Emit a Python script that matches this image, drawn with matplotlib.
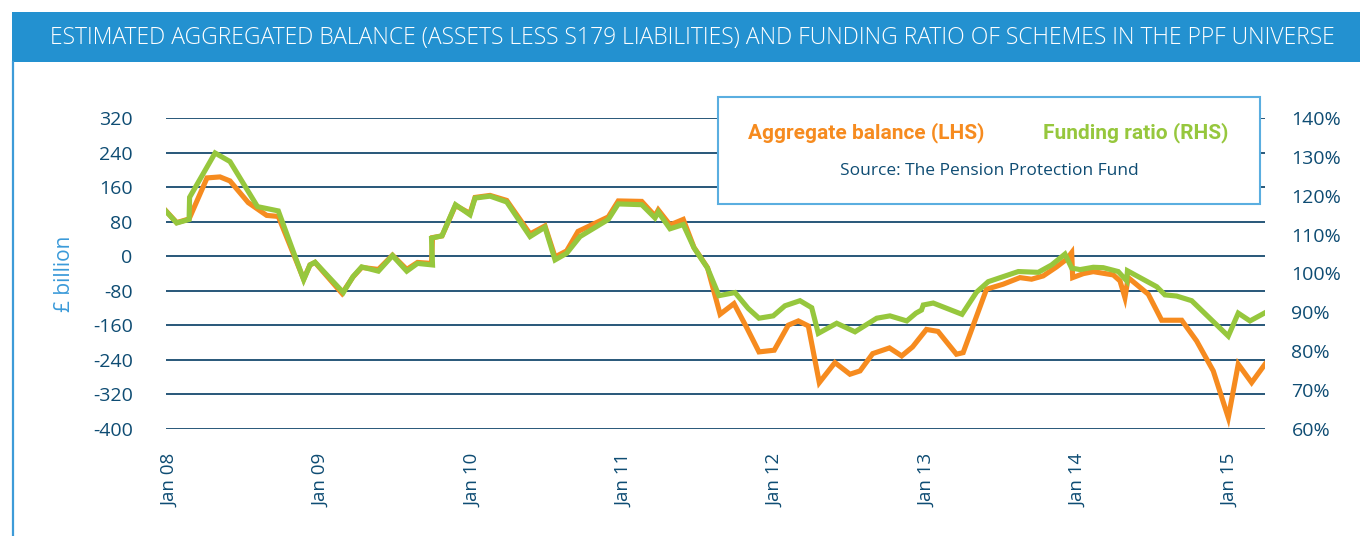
import matplotlib.pyplot as plt
from matplotlib.patches import Rectangle
from matplotlib.lines import Line2D

# x values are months since Jan 2008 (fractional where the series jumps)
balance_months = [-0.32, 0.53, 1.51, 2.93, 3.96, 4.75, 6.20, 7.66, 8.58, 10.59,
                  11.09, 11.49, 13.63, 14.50, 15.19, 16.51, 17.63, 18.76, 19.61, 20.72,
                  20.80, 21.55, 22.62, 23.77, 24.17, 25.36, 26.68, 28.53, 29.71, 30.51,
                  31.43, 32.33, 34.73, 35.52, 37.38, 38.43, 38.69, 39.62, 40.67, 41.52,
                  42.59, 43.59, 44.69, 45.70, 46.67, 47.88, 48.99, 49.79, 50.58, 51.45,
                  52.69, 53.88, 54.68, 55.68, 57.01, 57.98, 58.84, 59.94, 60.86, 62.32,
                  62.85, 64.70, 66.02, 67.35, 68.27, 69.19, 70.25, 71.05, 71.45, 71.53,
                  72.37, 73.16, 74.75, 75.28, 75.67, 75.93, 77.52, 78.58, 80.17, 81.35,
                  82.67, 83.86, 84.65, 85.71, 86.77]
balance_values = [104.9, 77.8, 86.3, 181.3, 183.6, 174.3, 124.1, 94.5, 92.1, -53.2,
                  -20.1, -14.4, -86.1, -47.9, -25.9, -30.6, 2.3, -30.6, -14.4, -16.7,
                  43.1, 47.0, 117.6, 99.1, 136.1, 140.8, 129.2, 51.6, 70.1, -1.6,
                  12.3, 57.4, 91.0, 128.0, 126.9, 93.3, 107.2, 72.5, 85.2, 20.4,
                  -26.4, -134.3, -109.7, -165.3, -221.5, -217.6, -159.7, -149.8, -161.4, -292.6,
                  -246.3, -273.2, -265.5, -225.5, -212.3, -230.8, -210.0, -169.5, -174.1, -226.9,
                  -223.2, -76.4, -64.8, -49.5, -53.2, -45.6, -24.8, -6.9, 8.3, -49.5,
                  -40.3, -35.7, -43.3, -57.2, -95.8, -49.5, -88.0, -148.2, -148.2, -196.1,
                  -265.5, -373.6, -250.0, -292.6, -250.0]

ratio_months = [-0.32, 0.53, 1.51, 1.55, 3.57, 4.75, 6.93, 8.58, 10.59, 11.09,
                11.49, 13.73, 14.50, 15.19, 16.51, 17.63, 18.76, 19.61, 20.80, 20.72,
                21.55, 22.62, 23.77, 24.17, 25.36, 26.68, 28.53, 29.71, 30.51, 31.43,
                32.49, 34.73, 35.52, 37.38, 38.43, 38.69, 39.62, 40.67, 41.52, 42.59,
                43.50, 44.77, 45.82, 46.67, 47.80, 48.73, 49.92, 50.85, 51.37, 52.83,
                54.28, 56.00, 57.05, 58.38, 59.11, 59.55, 59.69, 60.48, 62.76, 63.91,
                64.84, 67.22, 68.80, 69.86, 70.92, 71.45, 72.11, 73.16, 73.95, 75.14,
                75.81, 75.87, 78.19, 78.84, 79.77, 80.96, 83.86, 84.65, 85.58, 86.77]
ratio_values = [116.0, 113.0, 113.9, 119.6, 131.0, 128.8, 117.2, 116.1, 98.4, 102.2,
                102.9, 95.1, 99.2, 101.7, 100.6, 104.6, 100.6, 102.6, 102.2, 109.1,
                109.7, 117.7, 115.1, 119.4, 119.9, 118.4, 109.5, 111.9, 103.5, 105.2,
                109.5, 113.9, 117.9, 117.7, 114.3, 115.8, 111.5, 112.6, 106.6, 101.4,
                94.3, 95.1, 91.0, 88.5, 89.1, 91.7, 93.0, 91.2, 84.6, 87.2,
                85.0, 88.5, 89.1, 87.8, 89.8, 90.6, 91.9, 92.4, 89.5, 95.2,
                97.9, 100.5, 100.3, 102.2, 105.0, 101.4, 101.0, 101.6, 101.5, 100.5,
                98.1, 100.7, 96.6, 94.5, 94.2, 93.0, 83.9, 89.8, 87.8, 89.9]

year_ticks = [0, 12, 24, 36, 48, 60, 72, 84]
year_labels = ["Jan 08", "Jan 09", "Jan 10", "Jan 11", "Jan 12", "Jan 13", "Jan 14", "Jan 15"]
balance_ticks = [-400, -320, -240, -160, -80, 0, 80, 160, 240, 320]
ratio_ticks = [60, 70, 80, 90, 100, 110, 120, 130, 140]

ORANGE = "#F68B1F"
GREEN = "#96C73D"
NAVY = "#0E4C73"
BLUE = "#2391D0"
FONT = ["Open Sans", "DejaVu Sans"]

W, H = 1360, 536
fig = plt.figure(figsize=(W / 100, H / 100), dpi=100)

# title bar and left rule
fig.add_artist(Rectangle((12 / W, 1 - 62 / H), 1 - 12 / W, 50 / H,
                         transform=fig.transFigure, color=BLUE, lw=0))
fig.add_artist(Line2D([13 / W, 13 / W], [0, 1 - 62 / H], transform=fig.transFigure,
                      color="#3D9BD8", lw=1.6))
fig.text(692 / W, 1 - 38 / H,
         "ESTIMATED AGGREGATED BALANCE (ASSETS LESS S179 LIABILITIES) AND FUNDING RATIO OF SCHEMES IN THE PPF UNIVERSE",
         color="white", fontsize=16.5, family=FONT, weight="light", ha="center", va="center")

ax = fig.add_axes([166 / W, 1 - 429 / H, 1099 / W, 311 / H])
ax.plot(balance_months, balance_values, color=ORANGE, lw=3.7, solid_joinstyle="miter")
ax.set_xlim(-0.32, 86.77)
ax.set_ylim(-400, 320)
ax.set_yticks(balance_ticks)
ax.set_yticklabels([str(v) for v in balance_ticks])
ax.set_xticks(year_ticks)
ax.set_xticklabels(year_labels, rotation=90)
ax.grid(axis="y", color="#174A6E", lw=1.3)
ax.set_axisbelow(True)
ax.tick_params(axis="y", length=0, pad=24, labelsize=14, labelcolor=NAVY)
ax.tick_params(axis="x", length=0, pad=18, labelsize=13.5, labelcolor=NAVY)
for lbl in ax.get_xticklabels() + ax.get_yticklabels():
    lbl.set_family(FONT)
for s in ax.spines.values():
    s.set_visible(False)
ax.set_ylabel("£ billion", color="#3A9AD9", fontsize=15, family=FONT, labelpad=13)

ax2 = ax.twinx()
ax2.plot(ratio_months, ratio_values, color=GREEN, lw=3.7, solid_joinstyle="miter")
ax2.set_ylim(60, 140)
ax2.set_yticks(ratio_ticks)
ax2.set_yticklabels([f"{v}%" for v in ratio_ticks])
ax2.tick_params(axis="y", length=0, pad=19, labelsize=14, labelcolor=NAVY)
for lbl in ax2.get_yticklabels():
    lbl.set_family(FONT)
for s in ax2.spines.values():
    s.set_visible(False)

# legend box
fig.add_artist(Rectangle((718 / W, 1 - 204 / H), 542 / W, 107 / H, transform=fig.transFigure,
                         facecolor="white", edgecolor="#5AAEE0", lw=1.5, zorder=3))
bold = ["Liberation Sans Narrow", "Roboto", "DejaVu Sans"]
fig.text(866 / W, 1 - 133 / H, "Aggregate balance (LHS)", color=ORANGE, fontsize=15,
         family=bold, weight="bold", ha="center", va="center", zorder=4)
fig.text(1136 / W, 1 - 133 / H, "Funding ratio (RHS)", color=GREEN, fontsize=15,
         family=bold, weight="bold", ha="center", va="center", zorder=4)
fig.text(989 / W, 1 - 171 / H, "Source: The Pension Protection Fund", color=NAVY,
         fontsize=12.5, family=FONT, ha="center", va="center", zorder=4)

fig.savefig("out.png", dpi=100, facecolor="white")
